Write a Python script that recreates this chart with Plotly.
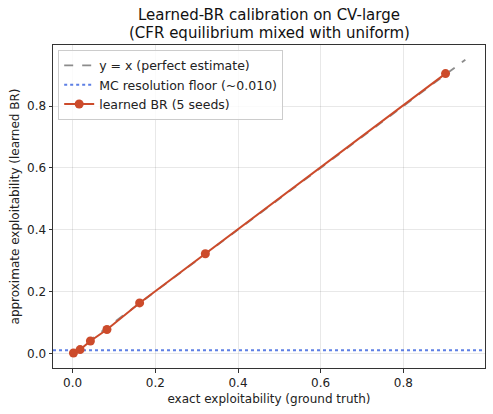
import plotly.graph_objects as go

exact = [0.002, 0.018, 0.043, 0.083, 0.162, 0.321, 0.902]
approx = [0.001, 0.012, 0.040, 0.077, 0.163, 0.322, 0.905]
approx_err = [0.001, 0.002, 0.002, 0.002, 0.003, 0.003, 0.003]
diag_x = [0.0, 0.95]
floor_y = 0.010
x_range = [-0.0475, 0.9975]
y_range = [-0.0475, 0.9975]
ticks = [0.0, 0.2, 0.4, 0.6, 0.8]
tick_text = ["0.0", "0.2", "0.4", "0.6", "0.8"]
title_lines = ["Learned-BR calibration on CV-large", "(CFR equilibrium mixed with uniform)"]

red = "#cc4b2b"
font = "DejaVu Sans"

fig = go.Figure()
fig.add_trace(go.Scatter(
    x=diag_x, y=diag_x, mode="lines",
    line=dict(color="rgba(128,128,128,0.9)", width=1.8, dash="dash"),
    name="y = x (perfect estimate)"))
fig.add_trace(go.Scatter(
    x=x_range, y=[floor_y, floor_y], mode="lines",
    line=dict(color="rgba(65,105,225,0.85)", width=2, dash="dot"),
    name="MC resolution floor (~0.010)"))
fig.add_trace(go.Scatter(
    x=exact, y=approx, mode="lines+markers",
    line=dict(color=red, width=2),
    marker=dict(color=red, size=9),
    error_y=dict(type="data", array=approx_err, color=red, thickness=1.5, width=3),
    name="learned BR (5 seeds)"))

axis_common = dict(
    showgrid=True, gridcolor="rgba(0,0,0,0.09)", gridwidth=1,
    zeroline=False, showline=True, linecolor="#333", linewidth=1, mirror=True,
    ticks="outside", ticklen=3.5, tickcolor="#333",
    tickvals=ticks, ticktext=tick_text,
    tickfont=dict(family=font, size=12, color="#222"),
)

fig.update_layout(
    width=493, height=414,
    margin=dict(l=53, r=8, t=45, b=46),
    paper_bgcolor="white", plot_bgcolor="white",
    font=dict(family=font, color="#222"),
    xaxis=dict(range=x_range,
               title=dict(text="exact exploitability (ground truth)", font=dict(family=font, size=12), standoff=5),
               **axis_common),
    yaxis=dict(range=y_range,
               title=dict(text="approximate exploitability (learned BR)", font=dict(family=font, size=12), standoff=4),
               **axis_common),
    legend=dict(x=0.012, y=0.985, xanchor="left", yanchor="top",
                bgcolor="rgba(255,255,255,0.8)", bordercolor="#ccc", borderwidth=1,
                font=dict(family=font, size=12.5), tracegroupgap=0),
    showlegend=True,
)
fig.add_annotation(text=title_lines[0], xref="paper", yref="paper", x=0.5, y=(368 - 15) / 323,
                   xanchor="center", yanchor="middle", showarrow=False,
                   font=dict(family=font, size=15, color="#111"))
fig.add_annotation(text=title_lines[1], xref="paper", yref="paper", x=0.5, y=(368 - 33) / 323,
                   xanchor="center", yanchor="middle", showarrow=False,
                   font=dict(family=font, size=15, color="#111"))

fig.write_html("out.html")
